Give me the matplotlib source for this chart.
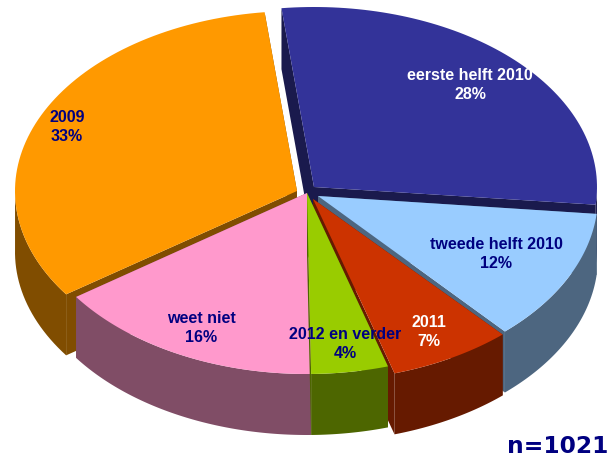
import matplotlib
matplotlib.use('Agg')
import matplotlib.pyplot as plt
import numpy as np
from matplotlib.patches import Polygon

plt.rcParams['font.family'] = ['Liberation Sans', 'DejaVu Sans']

labels = ['eerste helft 2010', 'tweede helft 2010', '2011', '2012 en verder', 'weet niet', '2009']
percent_labels = [28, 12, 7, 4, 16, 33]
shares = [28.4, 11.8, 7.0, 4.4, 15.5, 32.9]

top_colors = ['#333399', '#99CCFF', '#CC3300', '#99CC00', '#FF99CC', '#FF9900']
wall_colors = ['#1A1A4D', '#4D6680', '#661A00', '#4D6600', '#804D66', '#804D00']
text_colors = ['white', '#000080', 'white', '#000080', '#000080', '#000080']

# slice tip in pixels, hand tuned per slice
tips = [(314, 188), (318, 197), (313, 200), (307, 194), (307, 194), (297, 192)]
radii_x = [283, 280, 284, 282, 282, 282]
radii_y = [180, 182, 182, 181, 181, 180]
label_pos = [(470, 85), (496, 254), (429, 332), (345, 344), (201, 328), (67, 127)]
draw_order = [0, 5, 1, 2, 4, 3]

start_angle = 96.6
depth = 61

fig = plt.figure(figsize=(6.12, 4.6), dpi=100)
ax = fig.add_axes([0, 0, 1, 1])
ax.set_xlim(0, 612)
ax.set_ylim(460, 0)
ax.axis('off')

# slice boundaries, clockwise from the start angle
ends = start_angle - np.cumsum(shares) * 3.6
starts = np.concatenate([[start_angle], ends[:-1]])

for i in draw_order:
    tip = np.array(tips[i], dtype=float)
    t = np.radians(np.linspace(starts[i], ends[i], 80))
    edge = np.column_stack([tip[0] + radii_x[i] * np.cos(t), tip[1] - radii_y[i] * np.sin(t)])
    down = np.array([0, depth])

    # radial walls first
    for p in (edge[0], edge[-1]):
        wall = [tip, p, p + down, tip + down]
        ax.add_patch(Polygon(wall, closed=True, fc=wall_colors[i], ec='none'))

    # outer wall, only where the rim faces the viewer
    front = edge[np.sin(t) <= 0.02]
    if len(front) > 1:
        wall = np.vstack([front, (front + down)[::-1]])
        ax.add_patch(Polygon(wall, closed=True, fc=wall_colors[i], ec='none'))

    top = np.vstack([tip, edge])
    ax.add_patch(Polygon(top, closed=True, fc=top_colors[i], ec='none'))

for i, name in enumerate(labels):
    ax.text(label_pos[i][0], label_pos[i][1], f'{name}\n{percent_labels[i]}%', color=text_colors[i],
            fontsize=11.5, fontweight='bold', ha='center', va='center', linespacing=1.33)

ax.text(557.5, 447, 'n=1021', color='#000080', fontsize=16.8, fontweight='bold',
        family=['DejaVu Sans'], ha='center', va='center')

fig.savefig('out.png', dpi=100)
